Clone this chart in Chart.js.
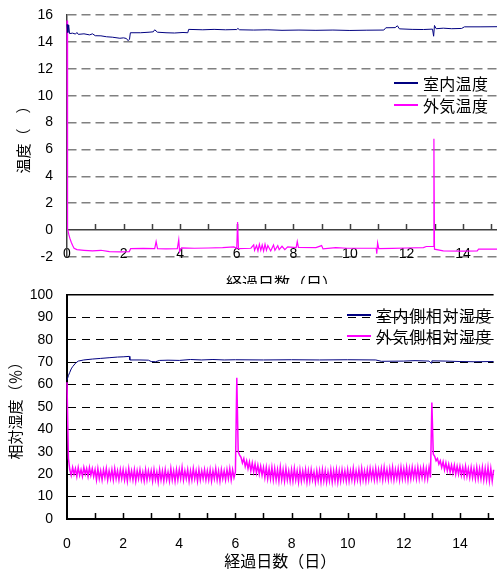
<!DOCTYPE html>
<html>
<head>
<meta charset="utf-8">
<script src="https://cdn.jsdelivr.net/npm/chart.js@4.4.1/dist/chart.umd.min.js"></script>
<style>
  body { margin: 0; background: #fff; width: 497px; height: 574px; position: relative; overflow: hidden; }
  .box { position: absolute; left: 0; width: 497px; height: 290px; background: #fff; }
  #boxTop { top: 0; }
  #boxBottom { top: 284px; }
  .legend { position: absolute; font-family: 'Noto Sans CJK JP', sans-serif; font-size: 16px; color: #000; }
  .legend .row { position: absolute; left: 0; height: 20px; line-height: 20px; white-space: nowrap; }
  .legend .line { position: absolute; left: 0; top: 9px; width: 24px; height: 1.5px; }
  .legend .txt { position: absolute; left: 29px; top: 0; }
</style>
</head>
<body>
<div class="box" id="boxTop"><canvas id="grafica-temp" width="497" height="290"></canvas></div>
<div class="box" id="boxBottom"><canvas id="grafica-hum" width="497" height="290"></canvas></div>
<div class="legend" id="legend-temp" style="left:394px;top:73px;letter-spacing:0.3px"></div>
<div class="legend" id="legend-hum" style="left:347px;top:305px;letter-spacing:0.6px"></div>

<script>
// 温度 [日, ℃]
const naiTemp = [
  [0, 15.3], [0.03, 14.7], [0.06, 15.25], [0.09, 14.62], [0.2, 14.65], [0.3, 14.58], [0.35, 14.7],
  [0.4, 14.56], [0.6, 14.6], [0.8, 14.52], [0.9, 14.6], [1.0, 14.46], [1.2, 14.45], [1.4, 14.38],
  [1.6, 14.35], [1.87, 14.27], [2.0, 14.3], [2.1, 14.25], [2.16, 14.09], [2.21, 14.2], [2.24, 14.68],
  [2.6, 14.68], [2.9, 14.72], [3.05, 14.75], [3.1, 14.9], [3.2, 14.72], [3.5, 14.68], [3.8, 14.66],
  [4.1, 14.7], [4.27, 14.68], [4.3, 14.93], [4.8, 14.9], [5.2, 14.93], [5.6, 14.9], [6.0, 14.92],
  [6.04, 15.0], [6.1, 14.9], [6.6, 14.88], [7.1, 14.9], [7.6, 14.86], [8.2, 14.88], [8.8, 14.86],
  [9.4, 14.88], [10.0, 14.85], [10.6, 14.87], [11.2, 14.88], [11.27, 15.05], [11.6, 15.06],
  [11.68, 15.2], [11.75, 14.97], [12.2, 14.93], [12.6, 14.92], [12.92, 14.95], [12.96, 14.42],
  [12.99, 15.22], [13.05, 14.98], [13.3, 15.02], [13.6, 14.98], [13.95, 15.0], [14.05, 15.12],
  [14.6, 15.12], [15.2, 15.13]
];
const gaiTemp = [
  [0, 15.6], [0.02, 0.1], [0.06, -0.3], [0.1, -0.6], [0.15, -0.9], [0.2, -1.15], [0.25, -1.35],
  [0.35, -1.45], [0.6, -1.5], [0.9, -1.55], [1.2, -1.5], [1.5, -1.6], [1.9, -1.62], [2.2, -1.6],
  [2.25, -1.38], [2.7, -1.36], [3.1, -1.37], [3.15, -0.85], [3.2, -1.38], [3.5, -1.4], [3.9, -1.38],
  [3.95, -0.72], [3.98, -1.6], [4.05, -1.32], [4.5, -1.35], [5.0, -1.33], [5.5, -1.3], [5.9, -1.25],
  [6.0, -1.35], [6.03, 0.6], [6.06, -1.38], [6.5, -1.35], [6.6, -1.1], [6.63, -1.5], [6.7, -1.15],
  [6.75, -1.55], [6.8, -1.05], [6.85, -1.5], [6.9, -1.1], [6.95, -1.55], [7.0, -1.05], [7.05, -1.5],
  [7.1, -1.15], [7.2, -1.55], [7.3, -1.1], [7.35, -1.5], [7.45, -1.15], [7.5, -1.45], [7.6, -1.2],
  [7.7, -1.45], [7.8, -1.25], [8.1, -1.3], [8.14, -0.85], [8.18, -1.28], [8.8, -1.3], [9.0, -1.15],
  [9.05, -1.4], [9.5, -1.3], [9.9, -1.35], [10.5, -1.35], [10.93, -1.35], [10.95, -1.75],
  [10.98, -0.95], [11.02, -1.38], [11.5, -1.36], [12.0, -1.33], [12.6, -1.3], [12.7, -1.22],
  [12.95, -1.22], [12.97, 6.8], [12.99, -1.42], [13.3, -1.55], [14.0, -1.57], [14.5, -1.55],
  [14.55, -1.42], [15.2, -1.42]
];

// 相対湿度 [日, %]
const naiRH = [
  [0, 62], [0.05, 64], [0.1, 65.5], [0.15, 67], [0.2, 68], [0.3, 69.5], [0.4, 70.5], [0.6, 71],
  [0.9, 71.4], [1.2, 71.7], [1.5, 72], [1.8, 72.3], [2.0, 72.4], [2.22, 72.6], [2.24, 71],
  [2.6, 71], [2.9, 70.9], [3.0, 70.3], [3.15, 70.2], [3.3, 70.8], [3.6, 70.9], [4.0, 70.8],
  [4.4, 71.2], [4.8, 71], [5.2, 71.2], [5.6, 71], [6.0, 71.1], [7.0, 71], [8.0, 71.1], [9.0, 71],
  [10.0, 71.1], [11.0, 71], [11.2, 70.4], [12.0, 70.5], [12.4, 70.7], [12.9, 70.5], [12.97, 69.6],
  [13.0, 70.6], [13.5, 70.5], [14.0, 70.3], [14.5, 70.2], [15.2, 70.3]
];
// 外気側: 0.05日ごと (1行 = 1日)
const gaiRHStep = 0.05;
const gaiRH = [
  61, 27, 22, 19.5, 23, 20, 22.5, 19, 23, 19.5, 22, 19, 23, 20, 22.5, 19, 23, 19.5, 22.5, 19,
  22, 17.5, 22.5, 18, 21.5, 17.5, 22, 18.5, 22.5, 17.5, 21.5, 18, 22, 17.5, 22.5, 18, 21.5, 17.5, 22, 18,
  22, 17.5, 21.5, 17, 22.5, 18, 21.5, 17.5, 22, 17, 21.5, 18, 22, 17.5, 21, 17, 22, 17.5, 21.5, 18,
  21.5, 17, 22, 17.5, 21, 16.5, 22, 17.5, 21.5, 17, 22, 17.5, 21, 17, 22.5, 17.5, 21.5, 17, 22, 17.5,
  22, 18, 23, 17.5, 21.5, 18, 22, 17, 21.5, 17.5, 22.5, 18, 21.5, 17, 22, 17.5, 21.5, 18, 22, 17.5,
  21.5, 17.5, 22, 17, 21.5, 18, 22.5, 17.5, 21.5, 17, 22, 18, 21.5, 17.5, 22, 18, 22.5, 17.5, 22, 18.5,
  21, 63, 30, 28.5, 27.5, 25, 27, 23.5, 26, 22.5, 25.5, 21.5, 25, 21, 24.5, 20.5, 24, 20, 23.5, 19.5,
  23, 18.5, 23, 18, 22.5, 18, 23, 17.5, 22.5, 17.5, 22, 17, 23, 17.5, 22, 17, 22.5, 17.5, 21.5, 17,
  22, 17, 22.5, 17.5, 21.5, 16.5, 22, 17, 21.5, 17.5, 22, 16.5, 21.5, 17, 22, 17.5, 21, 16.5, 21.5, 17,
  21.5, 16.5, 22, 17, 21.5, 16.5, 21, 17, 22, 16.5, 21.5, 17, 22, 16.5, 21.5, 17, 22, 17.5, 21.5, 17,
  22, 17, 21.5, 17.5, 22.5, 17, 21.5, 17.5, 22, 17, 22.5, 17.5, 21.5, 17, 22, 17.5, 22.5, 18, 22, 17.5,
  22.5, 17.5, 22, 18, 22.5, 17.5, 23, 18, 22, 17.5, 22.5, 18, 23, 17.5, 22, 18, 22.5, 17.5, 23, 18,
  22.5, 18, 23, 17.5, 22.5, 18, 23, 18.5, 22.5, 18, 23, 18, 22.5, 18.5, 23, 18, 22.5, 18, 23, 18.5,
  52, 29, 28, 26, 27, 24.5, 26, 23, 25.5, 22, 25, 21.5, 24.5, 21, 24, 20.5, 24, 20, 23.5, 20,
  23.5, 19.5, 23, 19, 23.5, 19, 22.5, 18.5, 23, 18.5, 22.5, 18, 23, 18, 22.5, 18, 23, 17.5, 22.5, 17.5,
  23, 17, 22.5, 17, 22
];

const etiquetesTemp = ['室内温度', '外気温度'];
const etiquetesHum = ['室内側相対湿度', '外気側相対湿度'];
const colors = ['#000080', '#ff00ff'];

Chart.defaults.font.family = "'Liberation Sans', Arial, sans-serif";
Chart.defaults.font.size = 14;
Chart.defaults.color = '#000';

const cjk = { family: "'Noto Sans CJK JP', sans-serif", size: 16 };

function punts(parelles) {
  return parelles.map(p => ({ x: p[0], y: p[1] }));
}

// marques de l'eix sobre la línia del zero
const tickMarks = {
  id: 'tickMarks',
  beforeDatasetsDraw(chart, args, opts) {
    const x = chart.scales.x;
    const base = Math.round(chart.scales.y.getPixelForValue(opts.at));
    const llarg = opts.len;
    const ctx = chart.ctx;
    ctx.save();
    ctx.strokeStyle = opts.color;
    ctx.lineWidth = opts.width;
    ctx.beginPath();
    x.ticks.forEach(t => {
      if (t.value === 0) return;
      const px = Math.round(x.getPixelForValue(t.value)) + 0.5;
      ctx.moveTo(px, base);
      ctx.lineTo(px, base - llarg);
    });
    ctx.stroke();
    ctx.restore();
  }
};

function eixX(padding, mirror, titlePad, height) {
  return {
    type: 'linear',
    min: 0,
    max: 15.2,
    grid: { display: false },
    ticks: {
      stepSize: 1,
      includeBounds: false,
      autoSkip: false,
      maxRotation: 0,
      mirror: mirror,
      padding: padding,
      callback: v => (v % 2 === 0 ? v : '')
    },
    title: { display: true, text: '経過日数（日）', font: cjk, padding: { top: 0, bottom: titlePad } },
    afterFit: s => { s.height = height; }
  };
}

function ajustY(s) {
  s.width = 67;
  s.paddingTop = 0;
  s.paddingBottom = 0;
}

const graficaTemp = new Chart(document.getElementById('grafica-temp').getContext('2d'), {
  type: 'line',
  data: {
    datasets: [
      { label: etiquetesTemp[0], data: punts(naiTemp), borderColor: colors[0], borderWidth: 1, pointRadius: 0, tension: 0, clip: 3 },
      { label: etiquetesTemp[1], data: punts(gaiTemp), borderColor: colors[1], borderWidth: 1.2, pointRadius: 0, tension: 0, clip: 3 }
    ]
  },
  options: {
    responsive: false,
    animation: false,
    layout: { padding: { top: 15, right: 0, bottom: 0, left: 0 } },
    scales: {
      x: Object.assign(eixX(-6, true, -3, 33), { border: { display: false } }),
      y: {
        min: -2,
        max: 16,
        ticks: { stepSize: 2, padding: 14 },
        grid: {
          drawTicks: false,
          color: c => (c.tick && c.tick.value === 0 ? '#404040' : '#808080'),
          lineWidth: 1.5
        },
        border: {
          display: true,
          color: '#404040',
          width: 1.5,
          dash: c => (c.tick && c.tick.value !== 0 ? [9, 5] : [])
        },
        title: { display: true, text: '温度（　）', font: { family: cjk.family, size: 15 }, padding: { top: 14, bottom: 0 } },
        afterFit: ajustY
      }
    },
    plugins: {
      legend: { display: false },
      tooltip: { enabled: false },
      tickMarks: { at: 0, len: 6, color: '#404040', width: 1.5 }
    }
  },
  plugins: [tickMarks]
});

const graficaHum = new Chart(document.getElementById('grafica-hum').getContext('2d'), {
  type: 'line',
  data: {
    datasets: [
      { label: etiquetesHum[0], data: punts(naiRH), borderColor: colors[0], borderWidth: 1, pointRadius: 0, tension: 0, clip: 3 },
      { label: etiquetesHum[1], data: gaiRH.map((v, i) => ({ x: i * gaiRHStep, y: v })), borderColor: colors[1], borderWidth: 1.5, pointRadius: 0, tension: 0, clip: 3 }
    ]
  },
  options: {
    responsive: false,
    animation: false,
    layout: { padding: { top: 11, right: 0, bottom: 0, left: 0 } },
    scales: {
      x: Object.assign(eixX(9, false, 3, 55), { border: { display: true, color: '#000', width: 2 } }),
      y: {
        min: 0,
        max: 100,
        ticks: { stepSize: 10, padding: 14 },
        grid: {
          drawTicks: false,
          color: '#000',
          lineWidth: c => (c.tick && c.tick.value === 0 ? 2 : (c.tick && c.tick.value === 100 ? 1.5 : 1))
        },
        border: {
          display: true,
          color: '#000',
          width: 2,
          dash: c => (c.tick && c.tick.value !== 0 && c.tick.value !== 100 ? [8, 6] : [])
        },
        title: { display: true, text: '相対湿度（％）', font: { family: cjk.family, size: 15 }, padding: { top: 6, bottom: 0 } },
        afterFit: ajustY
      }
    },
    plugins: {
      legend: { display: false },
      tooltip: { enabled: false },
      tickMarks: { at: 0, len: 6, color: '#000', width: 1.5 }
    }
  },
  plugins: [tickMarks]
});

function pintarLlegenda(id, chart, salt) {
  const el = document.getElementById(id);
  chart.data.datasets.forEach((ds, i) => {
    const row = document.createElement('div');
    row.className = 'row';
    row.style.top = (i * salt) + 'px';
    const line = document.createElement('span');
    line.className = 'line';
    line.style.background = ds.borderColor;
    const txt = document.createElement('span');
    txt.className = 'txt';
    txt.textContent = ds.label;
    row.appendChild(line);
    row.appendChild(txt);
    el.appendChild(row);
  });
}

pintarLlegenda('legend-temp', graficaTemp, 22);
pintarLlegenda('legend-hum', graficaHum, 21);
</script>
</body>
</html>
